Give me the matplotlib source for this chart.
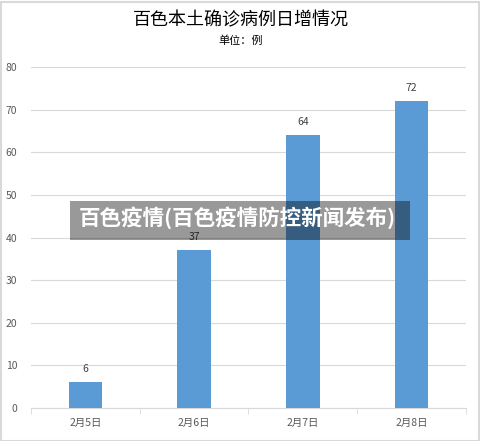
import numpy as np
import matplotlib.pyplot as plt
from matplotlib.patches import Rectangle

plt.rcParams['font.family'] = ['Noto Sans CJK SC', 'DejaVu Sans']

dates = ['2月5日', '2月6日', '2月7日', '2月8日']
cases = [6, 37, 64, 72]
title = '百色本土确诊病例日增情况'
unit = '单位：例'
banner = '百色疫情(百色疫情防控新闻发布)'

fig = plt.figure(figsize=(4.81, 4.41), dpi=100)
ax = fig.add_axes([31 / 481, 33 / 441, 435 / 481, 341 / 441])

x = np.arange(len(dates))
bars = ax.bar(x, cases, width=0.31, color='#5B9BD5', zorder=3)
for xi, v in zip(x, cases):
    ax.text(xi, v + 2, str(v), ha='center', va='bottom', fontsize=7.5, color='#404040')

ax.set_xlim(-0.5, len(dates) - 0.5)
ax.set_ylim(0, 80)
ax.set_yticks(range(0, 81, 10))
ax.grid(axis='y', color='#d9d9d9', linewidth=0.8, zorder=0)
ax.set_xticks(x)
ax.set_xticklabels(dates)
ax.tick_params(axis='x', length=0, labelsize=7.5, labelcolor='#595959', pad=7)
ax.tick_params(axis='y', length=0, labelsize=7.5, labelcolor='#595959', pad=10)
ax.set_xticks(np.arange(-0.5, len(dates), 1), minor=True)
ax.tick_params(axis='x', which='minor', length=4, color='#d9d9d9', direction='out')
for s in ['top', 'right', 'left']:
    ax.spines[s].set_visible(False)
ax.spines['bottom'].set_color('#d9d9d9')

fig.text(0.5, 1 - 20 / 441, title, ha='center', va='center', fontsize=13, color='#000000')
fig.text(0.5, 1 - 41 / 441, unit, ha='center', va='center', fontsize=8, color='#000000')

# overlay banner
fig.patches.append(Rectangle((70 / 481, 1 - 240 / 441), 340 / 481, 39 / 441,
                             transform=fig.transFigure, facecolor='black',
                             alpha=0.4, edgecolor='none', zorder=10))
fig.text(237 / 481, 1 - 218 / 441, banner, ha='center', va='center', fontsize=15.5,
         fontweight='bold', color='white', zorder=11)

# outer border
fig.patches.append(Rectangle((0.5 / 481, 0.5 / 441), 479 / 481, 439 / 441,
                             transform=fig.transFigure, facecolor='none',
                             edgecolor='#d9d9d9', linewidth=1.5, zorder=12))

fig.savefig('out.png', dpi=100)
